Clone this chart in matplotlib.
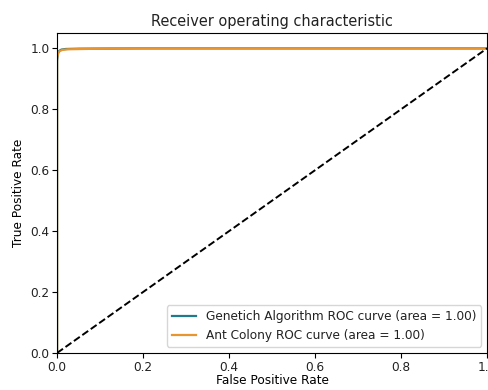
import matplotlib
matplotlib.use("Agg")
import matplotlib.pyplot as plt

# ROC points
ga_fpr = [0.0, 0.0, 0.002, 0.005, 0.01, 0.02, 0.05, 0.2, 1.0]
ga_tpr = [0.0, 0.96, 0.985, 0.992, 0.996, 0.998, 0.999, 1.0, 1.0]
ant_fpr = [0.0, 0.0, 0.003, 0.006, 0.012, 0.025, 0.06, 0.15, 1.0]
ant_tpr = [0.0, 0.97, 0.985, 0.991, 0.995, 0.997, 0.998, 1.0, 1.0]
ga_auc = 1.00
ant_auc = 1.00

plt.rcParams["font.size"] = 8.7
plt.rcParams["text.color"] = "#222222"
plt.rcParams["xtick.labelcolor"] = "#222222"
plt.rcParams["ytick.labelcolor"] = "#222222"

fig = plt.figure(figsize=(4.88, 3.9), dpi=100)
ax = fig.add_axes([0.117, 0.095, 0.881, 0.82])

ax.plot(ga_fpr, ga_tpr, color="#1f7a8c", lw=1.6,
        label="Genetich Algorithm ROC curve (area = %0.2f)" % ga_auc)
ax.plot(ant_fpr, ant_tpr, color="#e8952e", lw=1.6,
        label="Ant Colony ROC curve (area = %0.2f)" % ant_auc)
ax.plot([0, 1], [0, 1], color="black", lw=1.4, linestyle="--")

ax.set_xlim([0.0, 1.0])
ax.set_ylim([0.0, 1.05])
ax.set_xlabel("False Positive Rate", labelpad=0)
ax.set_ylabel("True Positive Rate")
ax.set_title("Receiver operating characteristic", pad=5)
ax.tick_params(pad=2)
ax.legend(loc="lower right")

fig.savefig("out.png", dpi=100)
